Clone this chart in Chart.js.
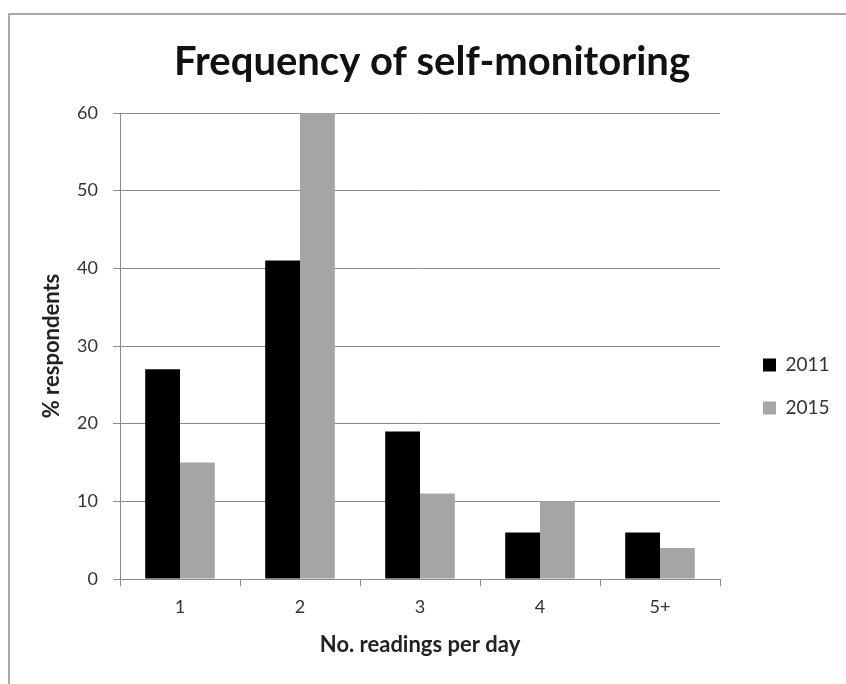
<!DOCTYPE html>
<html lang="en">
<head>
    <meta charset="UTF-8">
    <title>Frequency of self-monitoring</title>
    <style>
        body {
            margin: 0;
            background: #fff;
            overflow: hidden;
        }
        #wrap {
            position: relative;
            width: 846px;
            height: 684px;
        }
        #frame {
            position: absolute;
            left: 8px;
            top: 13px;
            width: 900px;
            height: 700px;
            border-left: 2px solid #a8a8a8;
            border-top: 2px solid #a8a8a8;
        }
        #chart-container {
            position: absolute;
            left: 0;
            top: 0;
            width: 846px;
            height: 684px;
        }
    </style>
    <script src="https://cdn.jsdelivr.net/npm/chart.js"></script>
</head>
<body>
    <div id="wrap">
        <div id="frame"></div>
        <div id="chart-container">
            <canvas id="freq-chart"></canvas>
        </div>
    </div>

    <script>
        // data
        const categories = ['1', '2', '3', '4', '5+'];
        const values2011 = [27, 41, 19, 6, 6];
        const values2015 = [15, 60, 11, 10, 4];
        const yTicks = [0, 10, 20, 30, 40, 50, 60];

        const fontFamily = "Lato, 'Open Sans', sans-serif";
        const gridColor = '#8a8a8a';

        // put legend and title where Excel had them
        const boxPlace = {
            id: 'boxPlace',
            afterLayout(chart) {
                const lg = chart.legend;
                if (lg) {
                    const pad = lg.options.labels.padding;
                    const size = lg.options.labels.font.size;
                    const dx = 763 - pad - lg.left;
                    const dy = 365 - size / 2 - pad - lg.top;
                    lg.left += dx;
                    lg.top += dy; lg.bottom += dy;
                    lg.right = 846;
                    lg.width = lg.right - lg.left;
                }
                const tb = chart.titleBlock;
                if (tb) {
                    const shift = 432 - (tb.left + tb.right) / 2;
                    tb.left += shift; tb.right += shift;
                }
            }
        };

        const ctx = document.getElementById('freq-chart').getContext('2d');
        const chart = new Chart(ctx, {
            type: 'bar',
            data: {
                labels: categories,
                datasets: [{
                    label: '2011',
                    data: values2011,
                    backgroundColor: '#000000'
                }, {
                    label: '2015',
                    data: values2015,
                    backgroundColor: '#a5a5a5'
                }]
            },
            plugins: [boxPlace],
            options: {
                responsive: true,
                maintainAspectRatio: false,
                animation: false,
                layout: {
                    padding: { left: 0, right: 46, top: 0, bottom: 0 }
                },
                datasets: {
                    bar: {
                        categoryPercentage: 0.58,
                        barPercentage: 1.0
                    }
                },
                plugins: {
                    title: {
                        display: true,
                        text: 'Frequency of self-monitoring',
                        color: '#111',
                        font: { family: fontFamily, size: 40, weight: 'bold' },
                        padding: { top: 38, bottom: 27 }
                    },
                    legend: {
                        position: 'right',
                        align: 'start',
                        maxWidth: 80,
                        labels: {
                            boxWidth: 13,
                            boxHeight: 13,
                            padding: 24,
                            color: '#333',
                            font: { family: fontFamily, size: 19 }
                        }
                    },
                    tooltip: { enabled: false }
                },
                scales: {
                    x: {
                        afterFit(scale) { scale.height = 105; },
                        grid: {
                            drawOnChartArea: false,
                            drawTicks: true,
                            tickLength: 7,
                            color: gridColor
                        },
                        border: { display: true, color: gridColor, width: 1 },
                        ticks: {
                            color: '#333',
                            padding: 10,
                            font: { family: fontFamily, size: 18 }
                        },
                        title: {
                            display: true,
                            text: 'No. readings per day',
                            color: '#222',
                            font: { family: fontFamily, size: 22, weight: 'bold' },
                            padding: { top: 4, bottom: 26 }
                        }
                    },
                    y: {
                        min: 0,
                        max: 60,
                        afterFit(scale) { scale.width = 120; },
                        afterBuildTicks(scale) {
                            scale.ticks = yTicks.map(v => ({ value: v }));
                        },
                        grid: {
                            color: gridColor,
                            drawTicks: true,
                            tickLength: 7
                        },
                        border: { display: true, color: gridColor, width: 1 },
                        ticks: {
                            color: '#333',
                            padding: 15,
                            font: { family: fontFamily, size: 18 }
                        },
                        title: {
                            display: true,
                            text: '% respondents',
                            color: '#222',
                            font: { family: fontFamily, size: 22, weight: 'bold' },
                            padding: { top: 39, bottom: 4 }
                        }
                    }
                }
            }
        });
    </script>
</body>
</html>
